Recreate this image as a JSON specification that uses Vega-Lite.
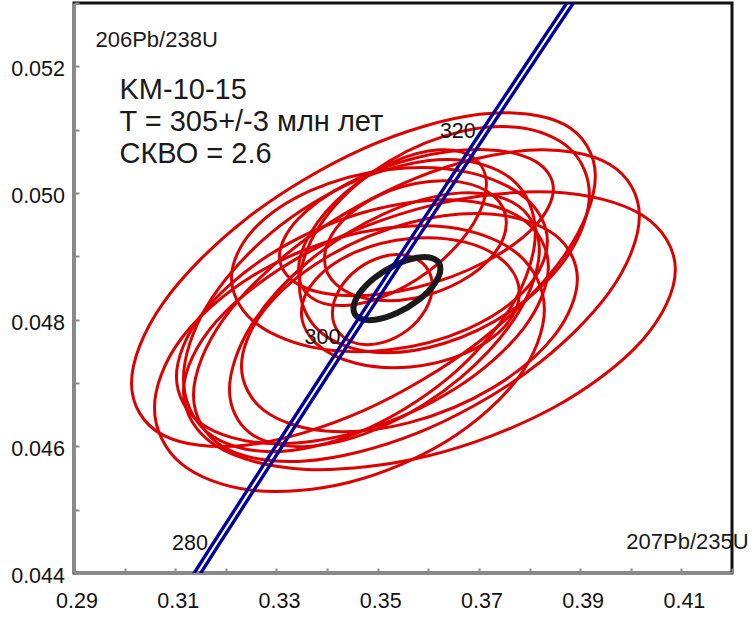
{
  "$schema": "https://vega.github.io/schema/vega-lite/v6.json",
  "width": 658,
  "height": 570,
  "autosize": {"type": "none"},
  "padding": {"left": 74, "top": 3, "right": 20, "bottom": 45},
  "background": "white",
  "config": {
    "view": {"stroke": "#111111", "strokeWidth": 3},
    "font": "Liberation Sans",
    "axis": {
      "domainColor": "#8a8a8a", "domainWidth": 3,
      "tickColor": "#8a8a8a", "tickWidth": 2, "tickSize": -5,
      "labelFont": "Liberation Sans", "labelFontSize": 21.5, "labelColor": "#111111",
      "grid": false, "labelFlush": false, "labelOverlap": false
    }
  },
  "datasets": {
    "ellipses": [
      {"e":1,"k":0,"x":0.40881,"y":0.048792},{"e":1,"k":1,"x":0.40229,"y":0.049648},{"e":1,"k":2,"x":0.38451,"y":0.050016},{"e":1,"k":3,"x":0.36022,"y":0.049797},{"e":1,"k":4,"x":0.33593,"y":0.049051},{"e":1,"k":5,"x":0.31815,"y":0.047976},{"e":1,"k":6,"x":0.31163,"y":0.046860},{"e":1,"k":7,"x":0.31815,"y":0.046004},{"e":1,"k":8,"x":0.33593,"y":0.045636},{"e":1,"k":9,"x":0.36022,"y":0.045855},{"e":1,"k":10,"x":0.38451,"y":0.046601},{"e":1,"k":11,"x":0.40229,"y":0.047676},
      {"e":2,"k":0,"x":0.39300,"y":0.050267},{"e":2,"k":1,"x":0.38686,"y":0.051083},{"e":2,"k":2,"x":0.37009,"y":0.051243},{"e":2,"k":3,"x":0.34718,"y":0.050702},{"e":2,"k":4,"x":0.32427,"y":0.049608},{"e":2,"k":5,"x":0.30750,"y":0.048251},{"e":2,"k":6,"x":0.30136,"y":0.046997},{"e":2,"k":7,"x":0.30750,"y":0.046181},{"e":2,"k":8,"x":0.32427,"y":0.046021},{"e":2,"k":9,"x":0.34718,"y":0.046562},{"e":2,"k":10,"x":0.37009,"y":0.047656},{"e":2,"k":11,"x":0.38686,"y":0.049013},
      {"e":3,"k":0,"x":0.38293,"y":0.048161},{"e":3,"k":1,"x":0.37776,"y":0.049033},{"e":3,"k":2,"x":0.36367,"y":0.049462},{"e":3,"k":3,"x":0.34441,"y":0.049335},{"e":3,"k":4,"x":0.32515,"y":0.048685},{"e":3,"k":5,"x":0.31106,"y":0.047687},{"e":3,"k":6,"x":0.30590,"y":0.046607},{"e":3,"k":7,"x":0.31106,"y":0.045735},{"e":3,"k":8,"x":0.32515,"y":0.045306},{"e":3,"k":9,"x":0.34441,"y":0.045433},{"e":3,"k":10,"x":0.36367,"y":0.046083},{"e":3,"k":11,"x":0.37776,"y":0.047081},
      {"e":4,"k":0,"x":0.40170,"y":0.049635},{"e":4,"k":1,"x":0.39579,"y":0.050454},{"e":4,"k":2,"x":0.37967,"y":0.050675},{"e":4,"k":3,"x":0.35765,"y":0.050239},{"e":4,"k":4,"x":0.33563,"y":0.049261},{"e":4,"k":5,"x":0.31951,"y":0.048005},{"e":4,"k":6,"x":0.31361,"y":0.046807},{"e":4,"k":7,"x":0.31951,"y":0.045988},{"e":4,"k":8,"x":0.33563,"y":0.045767},{"e":4,"k":9,"x":0.35765,"y":0.046203},{"e":4,"k":10,"x":0.37967,"y":0.047181},{"e":4,"k":11,"x":0.39579,"y":0.048437},
      {"e":5,"k":0,"x":0.38353,"y":0.049239},{"e":5,"k":1,"x":0.37935,"y":0.049911},{"e":5,"k":2,"x":0.36792,"y":0.050326},{"e":5,"k":3,"x":0.35232,"y":0.050372},{"e":5,"k":4,"x":0.33672,"y":0.050036},{"e":5,"k":5,"x":0.32530,"y":0.049408},{"e":5,"k":6,"x":0.32111,"y":0.048657},{"e":5,"k":7,"x":0.32530,"y":0.047985},{"e":5,"k":8,"x":0.33672,"y":0.047570},{"e":5,"k":9,"x":0.35232,"y":0.047524},{"e":5,"k":10,"x":0.36792,"y":0.047860},{"e":5,"k":11,"x":0.37935,"y":0.048488},
      {"e":6,"k":0,"x":0.38471,"y":0.050062},{"e":6,"k":1,"x":0.38108,"y":0.050503},{"e":6,"k":2,"x":0.37118,"y":0.050684},{"e":6,"k":3,"x":0.35765,"y":0.050556},{"e":6,"k":4,"x":0.34412,"y":0.050153},{"e":6,"k":5,"x":0.33422,"y":0.049585},{"e":6,"k":6,"x":0.33059,"y":0.049002},{"e":6,"k":7,"x":0.33422,"y":0.048561},{"e":6,"k":8,"x":0.34412,"y":0.048380},{"e":6,"k":9,"x":0.35765,"y":0.048508},{"e":6,"k":10,"x":0.37118,"y":0.048911},{"e":6,"k":11,"x":0.38108,"y":0.049479},
      {"e":7,"k":0,"x":0.39182,"y":0.049977},{"e":7,"k":1,"x":0.38798,"y":0.050699},{"e":7,"k":2,"x":0.37750,"y":0.051037},{"e":7,"k":3,"x":0.36318,"y":0.050899},{"e":7,"k":4,"x":0.34886,"y":0.050323},{"e":7,"k":5,"x":0.33838,"y":0.049463},{"e":7,"k":6,"x":0.33454,"y":0.048549},{"e":7,"k":7,"x":0.33838,"y":0.047827},{"e":7,"k":8,"x":0.34886,"y":0.047489},{"e":7,"k":9,"x":0.36318,"y":0.047627},{"e":7,"k":10,"x":0.37750,"y":0.048203},{"e":7,"k":11,"x":0.38798,"y":0.049063},
      {"e":8,"k":0,"x":0.38945,"y":0.048642},{"e":8,"k":1,"x":0.38501,"y":0.049338},{"e":8,"k":2,"x":0.37286,"y":0.049664},{"e":8,"k":3,"x":0.35627,"y":0.049531},{"e":8,"k":4,"x":0.33968,"y":0.048975},{"e":8,"k":5,"x":0.32753,"y":0.048146},{"e":8,"k":6,"x":0.32309,"y":0.047264},{"e":8,"k":7,"x":0.32753,"y":0.046568},{"e":8,"k":8,"x":0.33968,"y":0.046242},{"e":8,"k":9,"x":0.35627,"y":0.046375},{"e":8,"k":10,"x":0.37286,"y":0.046931},{"e":8,"k":11,"x":0.38501,"y":0.047760},
      {"e":9,"k":0,"x":0.38194,"y":0.049103},{"e":9,"k":1,"x":0.37784,"y":0.049793},{"e":9,"k":2,"x":0.36664,"y":0.050002},{"e":9,"k":3,"x":0.35133,"y":0.049675},{"e":9,"k":4,"x":0.33602,"y":0.048899},{"e":9,"k":5,"x":0.32482,"y":0.047882},{"e":9,"k":6,"x":0.32072,"y":0.046897},{"e":9,"k":7,"x":0.32482,"y":0.046207},{"e":9,"k":8,"x":0.33602,"y":0.045998},{"e":9,"k":9,"x":0.35133,"y":0.046325},{"e":9,"k":10,"x":0.36664,"y":0.047101},{"e":9,"k":11,"x":0.37784,"y":0.048118},
      {"e":10,"k":0,"x":0.37799,"y":0.048422},{"e":10,"k":1,"x":0.37510,"y":0.048909},{"e":10,"k":2,"x":0.36723,"y":0.049224},{"e":10,"k":3,"x":0.35646,"y":0.049283},{"e":10,"k":4,"x":0.34570,"y":0.049070},{"e":10,"k":5,"x":0.33782,"y":0.048642},{"e":10,"k":6,"x":0.33493,"y":0.048114},{"e":10,"k":7,"x":0.33782,"y":0.047627},{"e":10,"k":8,"x":0.34570,"y":0.047312},{"e":10,"k":9,"x":0.35646,"y":0.047253},{"e":10,"k":10,"x":0.36723,"y":0.047466},{"e":10,"k":11,"x":0.37510,"y":0.047894},
      {"e":11,"k":0,"x":0.37542,"y":0.049531},{"e":11,"k":1,"x":0.37302,"y":0.049945},{"e":11,"k":2,"x":0.36644,"y":0.050172},{"e":11,"k":3,"x":0.35745,"y":0.050151},{"e":11,"k":4,"x":0.34846,"y":0.049888},{"e":11,"k":5,"x":0.34189,"y":0.049453},{"e":11,"k":6,"x":0.33948,"y":0.048963},{"e":11,"k":7,"x":0.34189,"y":0.048549},{"e":11,"k":8,"x":0.34846,"y":0.048322},{"e":11,"k":9,"x":0.35745,"y":0.048343},{"e":11,"k":10,"x":0.36644,"y":0.048606},{"e":11,"k":11,"x":0.37302,"y":0.049041},
      {"e":12,"k":0,"x":0.38372,"y":0.048835},{"e":12,"k":1,"x":0.37879,"y":0.049579},{"e":12,"k":2,"x":0.36535,"y":0.049891},{"e":12,"k":3,"x":0.34698,"y":0.049688},{"e":12,"k":4,"x":0.32861,"y":0.049024},{"e":12,"k":5,"x":0.31517,"y":0.048077},{"e":12,"k":6,"x":0.31024,"y":0.047101},{"e":12,"k":7,"x":0.31517,"y":0.046357},{"e":12,"k":8,"x":0.32861,"y":0.046045},{"e":12,"k":9,"x":0.34698,"y":0.046248},{"e":12,"k":10,"x":0.36535,"y":0.046912},{"e":12,"k":11,"x":0.37879,"y":0.047859},
      {"e":13,"k":0,"x":0.38115,"y":0.049374},{"e":13,"k":1,"x":0.37649,"y":0.050218},{"e":13,"k":2,"x":0.36377,"y":0.050527},{"e":13,"k":3,"x":0.34639,"y":0.050218},{"e":13,"k":4,"x":0.32901,"y":0.049374},{"e":13,"k":5,"x":0.31629,"y":0.048221},{"e":13,"k":6,"x":0.31163,"y":0.047068},{"e":13,"k":7,"x":0.31629,"y":0.046224},{"e":13,"k":8,"x":0.32901,"y":0.045915},{"e":13,"k":9,"x":0.34639,"y":0.046224},{"e":13,"k":10,"x":0.36377,"y":0.047068},{"e":13,"k":11,"x":0.37649,"y":0.048221},
      {"e":14,"k":0,"x":0.37148,"y":0.050130},{"e":14,"k":1,"x":0.36899,"y":0.050554},{"e":14,"k":2,"x":0.36219,"y":0.050682},{"e":14,"k":3,"x":0.35291,"y":0.050482},{"e":14,"k":4,"x":0.34363,"y":0.050005},{"e":14,"k":5,"x":0.33683,"y":0.049381},{"e":14,"k":6,"x":0.33434,"y":0.048776},{"e":14,"k":7,"x":0.33683,"y":0.048352},{"e":14,"k":8,"x":0.34363,"y":0.048224},{"e":14,"k":9,"x":0.35291,"y":0.048424},{"e":14,"k":10,"x":0.36219,"y":0.048901},{"e":14,"k":11,"x":0.36899,"y":0.049525},
      {"e":15,"k":0,"x":0.36081,"y":0.048529},{"e":15,"k":1,"x":0.35948,"y":0.048840},{"e":15,"k":2,"x":0.35587,"y":0.049010},{"e":15,"k":3,"x":0.35093,"y":0.048994},{"e":15,"k":4,"x":0.34599,"y":0.048797},{"e":15,"k":5,"x":0.34238,"y":0.048470},{"e":15,"k":6,"x":0.34105,"y":0.048103},{"e":15,"k":7,"x":0.34238,"y":0.047792},{"e":15,"k":8,"x":0.34599,"y":0.047622},{"e":15,"k":9,"x":0.35093,"y":0.047638},{"e":15,"k":10,"x":0.35587,"y":0.047835},{"e":15,"k":11,"x":0.35948,"y":0.048162}
    ],
    "mean": [
      {"k":0,"x":0.36239,"y":0.048803},{"k":1,"x":0.36124,"y":0.048955},{"k":2,"x":0.35810,"y":0.048981},{"k":3,"x":0.35380,"y":0.048876},{"k":4,"x":0.34950,"y":0.048668},{"k":5,"x":0.34636,"y":0.048412},{"k":6,"x":0.34521,"y":0.048177},{"k":7,"x":0.34636,"y":0.048025},{"k":8,"x":0.34950,"y":0.047999},{"k":9,"x":0.35380,"y":0.048104},{"k":10,"x":0.35810,"y":0.048312},{"k":11,"x":0.36124,"y":0.048568}
    ],
    "concordia": [
      {"side":"a","age":270,"x":0.30397,"y":0.042773},{"side":"a","age":280,"x":0.31688,"y":0.044392},{"side":"a","age":290,"x":0.32992,"y":0.046013},{"side":"a","age":300,"x":0.34309,"y":0.047637},{"side":"a","age":310,"x":0.35639,"y":0.049264},{"side":"a","age":320,"x":0.36982,"y":0.050893},{"side":"a","age":330,"x":0.38338,"y":0.052524},{"side":"a","age":340,"x":0.39708,"y":0.054158},
      {"side":"b","age":270,"x":0.30527,"y":0.042773},{"side":"b","age":280,"x":0.31818,"y":0.044392},{"side":"b","age":290,"x":0.33122,"y":0.046013},{"side":"b","age":300,"x":0.34439,"y":0.047637},{"side":"b","age":310,"x":0.35769,"y":0.049264},{"side":"b","age":320,"x":0.37112,"y":0.050893},{"side":"b","age":330,"x":0.38468,"y":0.052524},{"side":"b","age":340,"x":0.39838,"y":0.054158}
    ],
    "ages": [
      {"t":"280","x":0.317529,"y":0.044392},{"t":"300","x":0.343738,"y":0.047637},{"t":"320","x":0.370468,"y":0.050893}
    ],
    "axisnames": [
      {"t":"206Pb/238U","x":0.294246,"y":0.052306},{"t":"207Pb/235U","x":0.399125,"y":0.044373}
    ],
    "info": [
      {"t":"KM-10-15","x":0.29899,"y":0.05149},{"t":"T = 305+/-3 млн лет","x":0.29899,"y":0.050985},{"t":"СКВО = 2.6","x":0.29899,"y":0.050471}
    ]
  },
  "layer": [
    {
      "data": {"name": "ellipses"},
      "mark": {"type": "line", "interpolate": "cardinal-closed", "stroke": "#dc0000", "strokeWidth": 3, "clip": true},
      "encoding": {
        "x": {"field": "x", "type": "quantitative", "scale": {"domain": [0.29, 0.42], "nice": false, "zero": false},
              "axis": {"title": null, "values": [0.29,0.30,0.31,0.32,0.33,0.34,0.35,0.36,0.37,0.38,0.39,0.40,0.41,0.42],
                       "labelExpr": "round(datum.value*100) % 2 == 1 ? format(datum.value, '.2f') : ''",
                       "labelPadding": 22, "labelOffset": 2.5}},
        "y": {"field": "y", "type": "quantitative", "scale": {"domain": [0.044, 0.053], "nice": false, "zero": false},
              "axis": {"title": null, "values": [0.044,0.045,0.046,0.047,0.048,0.049,0.050,0.051,0.052,0.053],
                       "labelExpr": "round(datum.value*1000) % 2 == 0 ? format(datum.value, '.3f') : ''",
                       "labelPadding": 14.5, "labelOffset": 3.5}},
        "detail": {"field": "e"},
        "order": {"field": "k", "type": "quantitative"}
      }
    },
    {
      "data": {"name": "mean"},
      "mark": {"type": "line", "interpolate": "cardinal-closed", "stroke": "#1a1a1a", "strokeWidth": 6, "clip": true},
      "encoding": {
        "x": {"field": "x", "type": "quantitative"},
        "y": {"field": "y", "type": "quantitative"},
        "order": {"field": "k", "type": "quantitative"}
      }
    },
    {
      "data": {"name": "concordia"},
      "mark": {"type": "line", "interpolate": "monotone", "stroke": "#00009c", "strokeWidth": 3.4, "clip": true},
      "encoding": {
        "x": {"field": "x", "type": "quantitative"},
        "y": {"field": "y", "type": "quantitative"},
        "detail": {"field": "side"},
        "order": {"field": "age", "type": "quantitative"}
      }
    },
    {
      "data": {"name": "ages"},
      "mark": {"type": "text", "align": "right", "baseline": "alphabetic", "dx": -5.5, "dy": 1.5, "fontSize": 21.5, "font": "Liberation Sans", "color": "#111111"},
      "encoding": {
        "x": {"field": "x", "type": "quantitative"},
        "y": {"field": "y", "type": "quantitative"},
        "text": {"field": "t"}
      }
    },
    {
      "data": {"name": "axisnames"},
      "mark": {"type": "text", "align": "left", "baseline": "alphabetic", "fontSize": 22, "font": "Liberation Sans", "color": "#1a1a1a"},
      "encoding": {
        "x": {"field": "x", "type": "quantitative"},
        "y": {"field": "y", "type": "quantitative"},
        "text": {"field": "t"}
      }
    },
    {
      "data": {"name": "info"},
      "mark": {"type": "text", "align": "left", "baseline": "alphabetic", "fontSize": 29, "font": "Liberation Sans", "color": "#1a1a1a"},
      "encoding": {
        "x": {"field": "x", "type": "quantitative"},
        "y": {"field": "y", "type": "quantitative"},
        "text": {"field": "t"}
      }
    }
  ]
}
